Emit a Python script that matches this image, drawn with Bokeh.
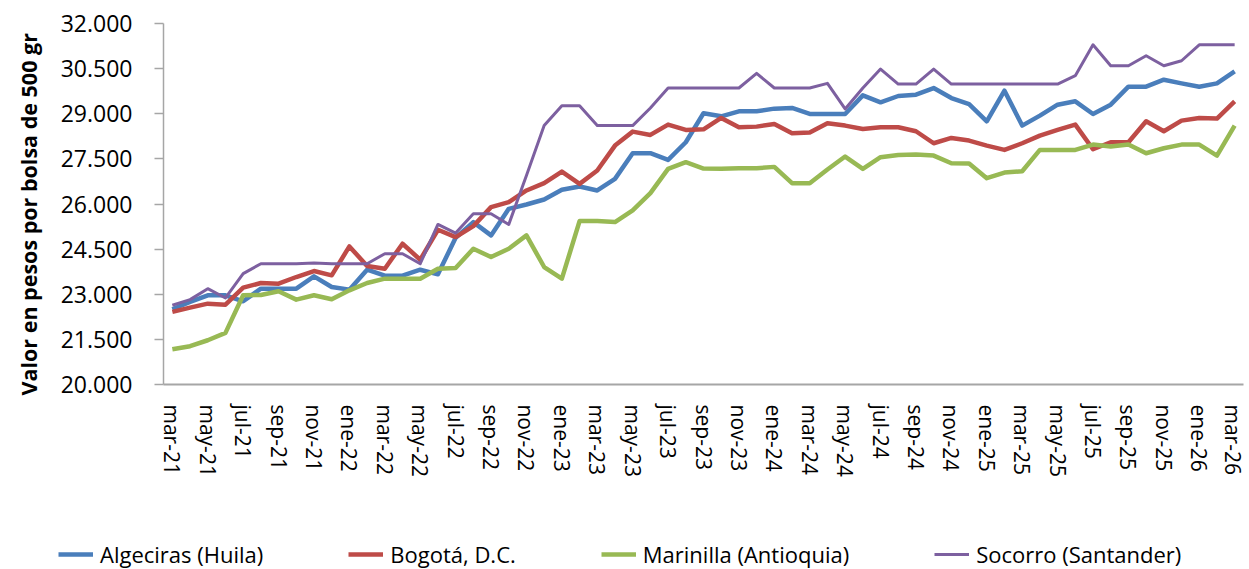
from bokeh.plotting import figure
from bokeh.layouts import column
from bokeh.models import Range1d, FixedTicker, Legend, LegendItem, Title
from bokeh.embed import file_html
from bokeh.resources import INLINE

# ---------------- data ----------------
months = [
    "mar-21", "abr-21", "may-21", "jun-21", "jul-21", "ago-21", "sep-21", "oct-21", "nov-21", "dic-21",
    "ene-22", "feb-22", "mar-22", "abr-22", "may-22", "jun-22", "jul-22", "ago-22", "sep-22", "oct-22",
    "nov-22", "dic-22", "ene-23", "feb-23", "mar-23", "abr-23", "may-23", "jun-23", "jul-23", "ago-23",
    "sep-23", "oct-23", "nov-23", "dic-23", "ene-24", "feb-24", "mar-24", "abr-24", "may-24", "jun-24",
    "jul-24", "ago-24", "sep-24", "oct-24", "nov-24", "dic-24", "ene-25", "feb-25", "mar-25", "abr-25",
    "may-25", "jun-25", "jul-25", "ago-25", "sep-25", "oct-25", "nov-25", "dic-25", "ene-26", "feb-26",
    "mar-26",
]

algeciras = [22500, 22744, 22965, 22965, 22766, 23186, 23186, 23186, 23595, 23242,
             23153, 23816, 23618, 23618, 23816, 23662, 24878, 25398, 24956, 25840,
             25984, 26150, 26471, 26582, 26449, 26836, 27688, 27688, 27466, 28053,
             29015, 28915, 29081, 29081, 29170, 29192, 28993, 28993, 28993, 29612,
             29380, 29590, 29634, 29855, 29523, 29320, 28749, 29767, 28606, 28937,
             29302, 29413, 28993, 29302, 29900, 29900, 30132, 30010, 29900, 30010,
             30408]

bogota = [22412, 22556, 22688, 22655, 23219, 23374, 23352, 23573, 23772, 23629,
          24591, 23938, 23850, 24679, 24148, 25144, 24900, 25265, 25896, 26062,
          26449, 26692, 27079, 26670, 27113, 27942, 28406, 28296, 28639, 28462,
          28484, 28860, 28550, 28572, 28661, 28351, 28373, 28683, 28606, 28495,
          28550, 28550, 28418, 28019, 28196, 28108, 27942, 27798, 28019, 28274,
          28462, 28639, 27820, 28053, 28053, 28749, 28417, 28771, 28860, 28840,
          29413]

marinilla = [21173, 21273, 21471, 21715, 22965, 22976, 23098, 22821, 22965, 22832,
             23131, 23374, 23518, 23518, 23518, 23850, 23872, 24513, 24237, 24513,
             24956, 23905, 23518, 25431, 25431, 25398, 25785, 26360, 27168, 27389,
             27179, 27168, 27190, 27190, 27234, 26692, 26692, 27146, 27577, 27168,
             27555, 27632, 27643, 27610, 27356, 27345, 26858, 27046, 27090, 27798,
             27798, 27798, 27975, 27909, 27975, 27688, 27854, 27975, 27975, 27610,
             28606]

socorro = [22633, 22821, 23186, 22876, 23684, 24016, 24016, 24016, 24038, 24016,
           24016, 24016, 24347, 24347, 24016, 25320, 25033, 25675, 25675, 25320,
           26950, 28606, 29269, 29269, 28606, 28606, 28606, 29192, 29855, 29855,
           29855, 29855, 29855, 30342, 29855, 29855, 29855, 30010, 29159, 29855,
           30486, 29988, 29988, 30486, 29988, 29988, 29988, 29988, 29988, 29988,
           29988, 30264, 31293, 30596, 30596, 30928, 30596, 30762, 31293, 31293,
           31293]

series_names = ["Algeciras (Huila)", "Bogotá, D.C.", "Marinilla (Antioquia)", "Socorro (Santander)"]

y_ticks = [20000, 21500, 23000, 24500, 26000, 27500, 29000, 30500, 32000]
y_tick_labels = ["20.000", "21.500", "23.000", "24.500", "26.000", "27.500", "29.000", "30.500", "32.000"]

y_title = "Valor en pesos por bolsa de 500 gr"

# ---------------- style ----------------
FONT = "Open Sans"
colors = ["#4A7EBB", "#BE4B48", "#98B954", "#7D60A0"]
widths = [4.5, 4.5, 4.5, 3]
W = 1246
data = [algeciras, bogota, marinilla, socorro]

# ---------------- main chart ----------------
idx = list(range(len(months)))

p = figure(width=W, height=500, output_backend="svg", toolbar_location=None,
           x_range=Range1d(-0.5, len(months) - 0.5), y_range=Range1d(y_ticks[0], y_ticks[-1]),
           min_border_left=161, min_border_right=3, min_border_top=23, min_border_bottom=116)
p.frame_align = False

p.xgrid.visible = False
p.ygrid.visible = False
p.outline_line_color = None

for vals, c, w in zip(data, colors, widths):
    p.line(idx, vals, line_color=c, line_width=w, line_join="round")

# y axis
p.yaxis.ticker = FixedTicker(ticks=y_ticks)
p.yaxis.major_label_overrides = {float(t): l for t, l in zip(y_ticks, y_tick_labels)}
p.yaxis.major_label_text_font = FONT
p.yaxis.major_label_text_font_size = "23px"
p.yaxis.major_label_text_color = "#000000"
p.yaxis.major_label_standoff = 22
p.yaxis.major_tick_out = 9
p.yaxis.major_tick_in = 0
p.yaxis.minor_tick_out = 0
p.yaxis.minor_tick_in = 0
p.yaxis.major_tick_line_color = "#A6A6A6"
p.yaxis.major_tick_line_width = 1.5
p.yaxis.axis_line_color = "#A6A6A6"
p.yaxis.axis_line_width = 1.5

# y title as a left-side title (starts slightly below the frame, like the reference)
p.add_layout(Title(text=y_title, align="left", vertical_align="top", offset=-11, standoff=26,
                   text_font=FONT, text_font_style="bold", text_font_size="21.5px",
                   text_color="#000000"), "left")

# x axis
x_ticks = list(range(0, len(months), 2))
p.xaxis.ticker = FixedTicker(ticks=x_ticks)
p.xaxis.major_label_overrides = {float(i): months[i] for i in x_ticks}
p.xaxis.major_label_orientation = "vertical"
p.xaxis.major_label_text_font = FONT
p.xaxis.major_label_text_font_size = "21px"
p.xaxis.major_label_text_color = "#000000"
p.xaxis.major_label_standoff = 20
p.xaxis.major_tick_out = 0
p.xaxis.major_tick_in = 0
p.xaxis.minor_tick_out = 0
p.xaxis.minor_tick_in = 0
p.xaxis.axis_line_color = "#A6A6A6"
p.xaxis.axis_line_width = 2

# ---------------- legend strip ----------------
# the series are drawn again here but fall outside this strip's ranges (invisible);
# they only feed the legend glyphs
lg = figure(width=W, height=69, output_backend="svg", toolbar_location=None,
            x_range=Range1d(0, 1), y_range=Range1d(0, 1),
            x_axis_location=None, y_axis_location=None,
            min_border_left=0, min_border_right=0, min_border_top=0, min_border_bottom=0)
lg.frame_align = False
lg.xgrid.visible = False
lg.ygrid.visible = False
lg.outline_line_color = None

items = []
for name, vals, c, w in zip(series_names, data, colors, widths):
    r = lg.line(idx, vals, line_color=c, line_width=w)
    items.append(LegendItem(label=name, renderers=[r]))

legend = Legend(items=items, location=(58, 0), orientation="horizontal",
                spacing=85, glyph_width=35, glyph_height=20, label_standoff=7,
                padding=0, margin=0, border_line_color=None, background_fill_alpha=0,
                label_text_font=FONT, label_text_font_size="22px", label_text_color="#000000")
lg.add_layout(legend)

layout = column(p, lg, spacing=0)

open("out.html", "w").write(file_html(layout, INLINE))
